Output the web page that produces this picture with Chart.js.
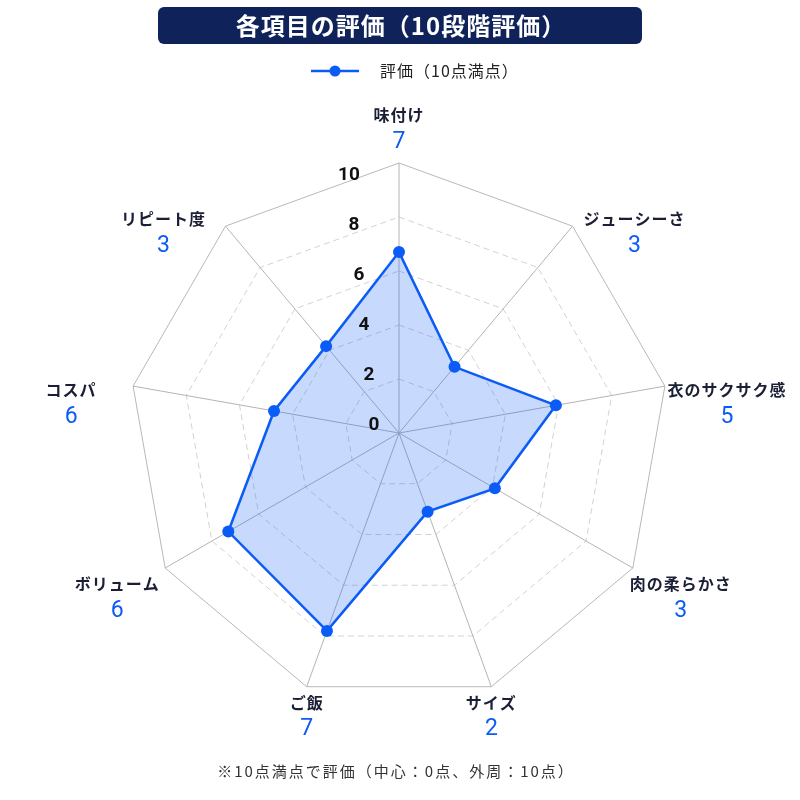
<!DOCTYPE html>
<html lang="ja">
<head>
<meta charset="utf-8">
<title>各項目の評価</title>
<script src="https://cdn.jsdelivr.net/npm/chart.js@4/dist/chart.umd.min.js"></script>
<style>
  html, body { margin:0; padding:0; background:#fff; }
  #wrap { width:800px; height:800px; }
</style>
</head>
<body>
<div id="wrap"><canvas id="chartRadar" width="800" height="800"></canvas></div>
<script>
// ── Dados ────────────────────────────────────────────────────────────────
const CATEGORIES  = ['味付け','ジューシーさ','衣のサクサク感','肉の柔らかさ','サイズ','ご飯','ボリューム','コスパ','リピート度'];
const SCORE_TEXT  = [7, 3, 5, 3, 2, 7, 6, 6, 3];                    // números azuis mostrados
const PLOT_VALUES = [6.7, 3.2, 5.9, 4.1, 3.1, 7.8, 7.3, 4.7, 4.2];
const TICKS       = [0, 2, 4, 6, 8, 10];
const SERIES_NAME = '評価（10点満点）';
const TITLE       = '各項目の評価（10段階評価）';
const FOOTNOTE    = '※10点満点で評価（中心：0点、外周：10点）';

const BLUE  = '#0b5cf6';
const NAVY  = '#0f2259';
const INK   = '#1b1f36';
const JP    = '"Noto Sans CJK JP", "Noto Sans", sans-serif';
const NUM   = 'Roboto, "Noto Sans CJK JP", sans-serif';

// ── Plugin: título, legenda, rótulos e nota ───────────────────────────────
const decor = {
  id: 'decor',
  afterDraw(chart) {
    const ctx = chart.ctx;
    const r = chart.scales.r;
    ctx.save();
    ctx.textBaseline = 'middle';

    // título
    ctx.fillStyle = NAVY;
    ctx.beginPath(); ctx.roundRect(158, 7, 484, 37, 6); ctx.fill();
    ctx.fillStyle = '#fff';
    ctx.font = `bold 24px ${JP}`;
    ctx.letterSpacing = '1px';
    ctx.textAlign = 'center';
    ctx.fillText(TITLE, 401, 26);

    // legenda
    ctx.strokeStyle = BLUE; ctx.lineWidth = 2.5;
    ctx.beginPath(); ctx.moveTo(311, 71); ctx.lineTo(359, 71); ctx.stroke();
    ctx.fillStyle = BLUE;
    ctx.beginPath(); ctx.arc(335, 71, 5.5, 0, Math.PI*2); ctx.fill();
    ctx.fillStyle = '#222';
    ctx.font = `16px ${JP}`;
    ctx.letterSpacing = '1px';
    ctx.textAlign = 'left';
    ctx.fillText(SERIES_NAME, 380, 71);

    // ticks (deslocados à esquerda do eixo)
    ctx.letterSpacing = '0px';
    ctx.fillStyle = '#111';
    ctx.font = `bold 19px ${NUM}`;
    ctx.textAlign = 'center';
    TICKS.forEach(v => {
      const d = r.getDistanceFromCenterForValue(v);
      ctx.fillText(String(v), r.xCenter - 25 - d*0.093, r.yCenter - 8 - d*0.925);
    });

    // rótulos das categorias
    CATEGORIES.forEach((name, i) => {
      const p = r.getPointPosition(i, r.drawingArea);
      const th = p.angle + Math.PI/2;
      const s = Math.sin(th), c = Math.cos(th);
      let x = p.x, ny;
      if (Math.abs(s) < 0.4) {
        ny = c > 0 ? p.y - 48 : p.y + 16;
      } else {
        x += Math.sign(s) * (c < -0.2 ? 48 : 62);
        ny = p.y + 7 - 18*c;
      }
      ctx.textAlign = 'center';
      ctx.fillStyle = INK;
      ctx.font = `bold 16px ${JP}`;
      ctx.letterSpacing = '1px';
      ctx.fillText(name, x, ny);
      ctx.fillStyle = BLUE;
      ctx.font = `23px ${NUM}`;
      ctx.letterSpacing = '0px';
      ctx.fillText(String(SCORE_TEXT[i]), x, ny + 27);
    });

    // nota de rodapé
    ctx.fillStyle = '#333';
    ctx.font = `15px ${JP}`;
    ctx.letterSpacing = '2px';
    ctx.textAlign = 'center';
    ctx.fillText(FOOTNOTE, 396, 771);

    ctx.restore();
  }
};

new Chart(document.getElementById('chartRadar'), {
  type: 'radar',
  data: {
    labels: CATEGORIES,
    datasets: [{
      label: SERIES_NAME,
      data: PLOT_VALUES,
      borderColor: BLUE,
      backgroundColor: 'rgba(11,92,246,0.23)',
      borderWidth: 2.5,
      fill: true,
      pointRadius: 6,
      pointBackgroundColor: BLUE,
      pointBorderWidth: 0,
    }],
  },
  options: {
    responsive: false,
    animation: false,
    layout: { padding: { left:129, right:131, top:163, bottom:97 } },
    plugins: { legend:{ display:false }, tooltip:{ enabled:false } },
    scales: {
      r: {
        min: 0, max: 10,
        ticks: { display:false, stepSize:2 },
        pointLabels: { display:false },
        angleLines: { color:'#b4b4b4', lineWidth:1 },
        grid: {
          color: ctx => ctx.tick && ctx.tick.value === 10 ? '#b8b8b8' : '#d2d2d2',
          lineWidth: 1,
        },
        border: {
          dash: ctx => ctx.tick && ctx.tick.value === 10 ? [] : [6, 4],
        },
      },
    },
  },
  plugins: [decor],
});
</script>
</body>
</html>
